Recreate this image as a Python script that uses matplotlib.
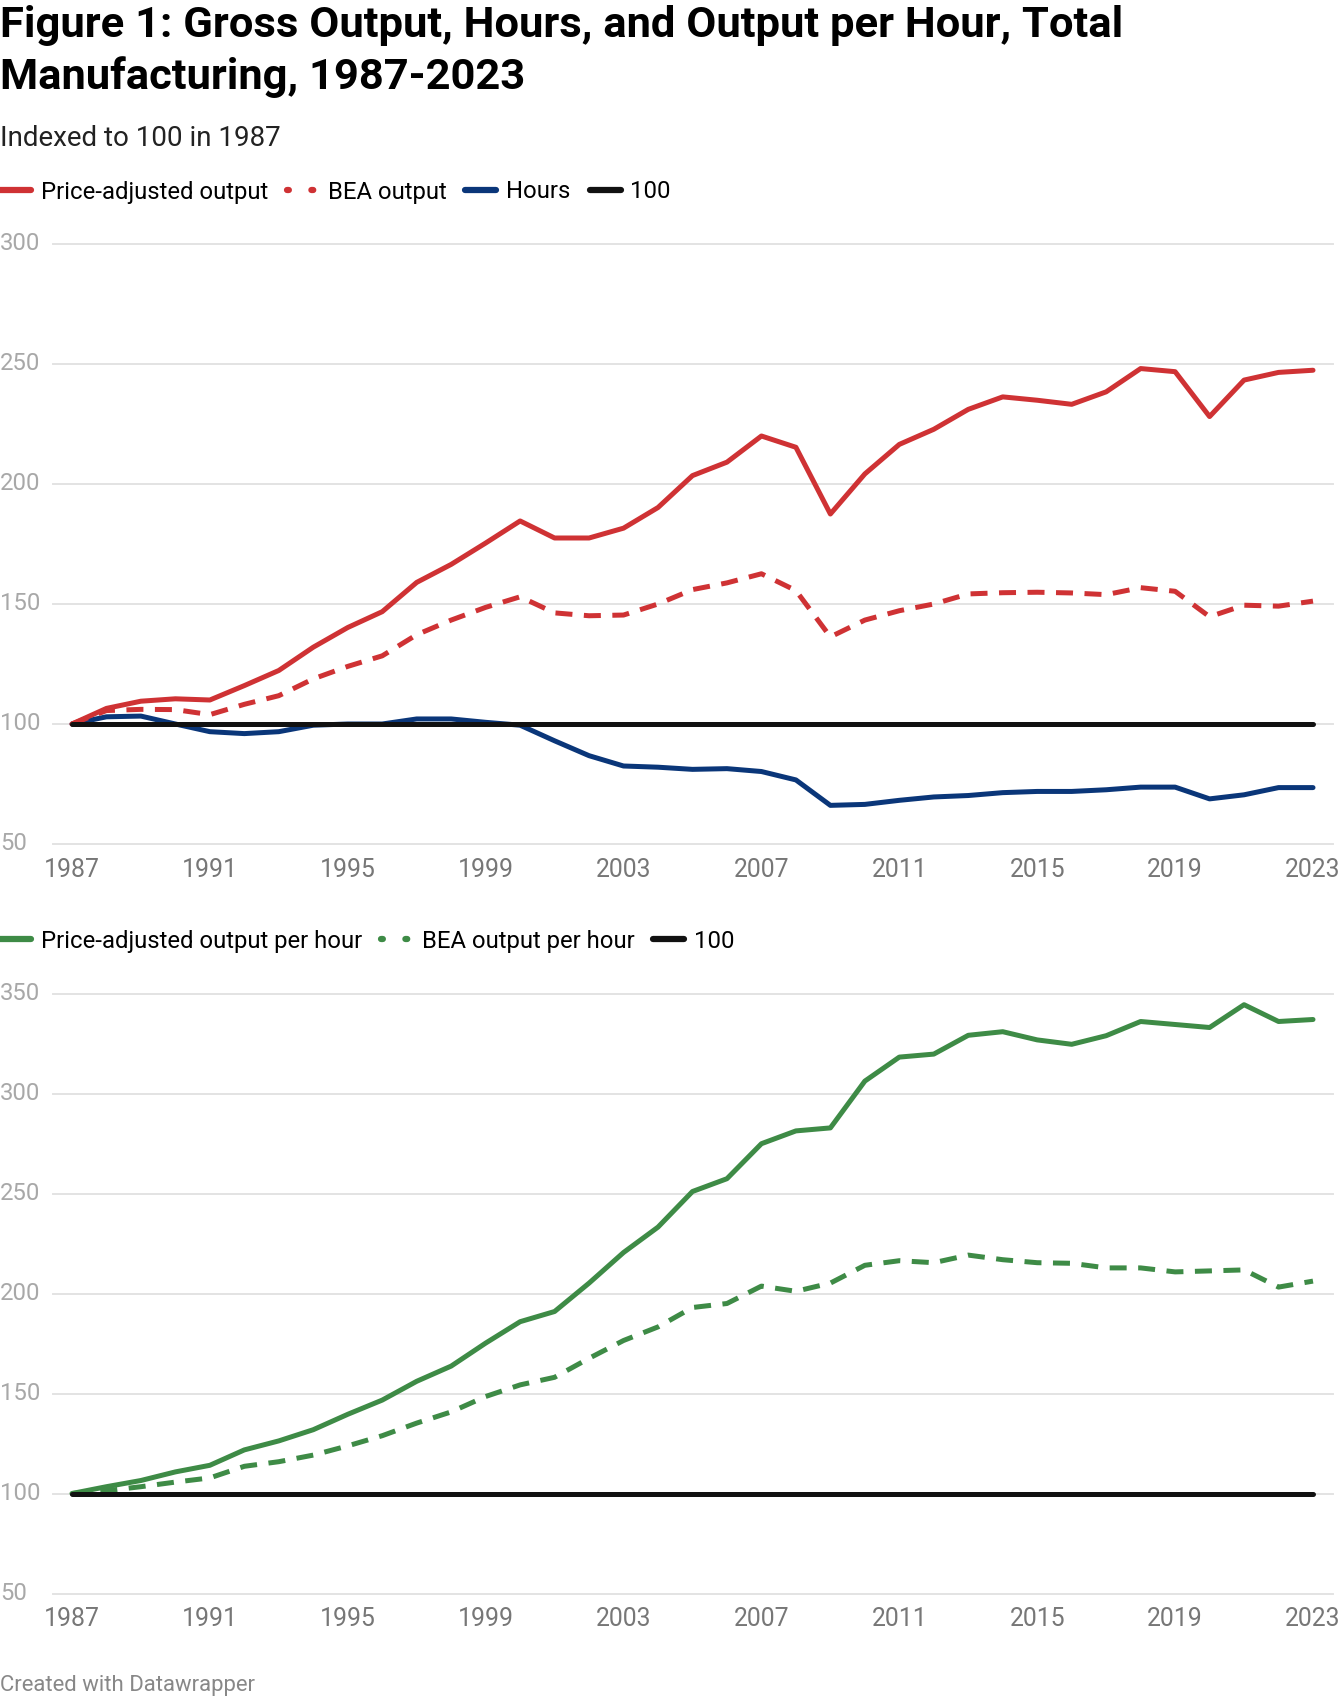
import matplotlib
matplotlib.use('Agg')
import matplotlib.pyplot as plt
from matplotlib.lines import Line2D

plt.rcParams['font.family'] = ['Roboto', 'DejaVu Sans']

years = list(range(1987, 2024))
price_adj = [100, 106.5, 109.5, 110.5, 110, 116, 122.3, 132, 140.2, 146.8,
             159, 166.5, 175.4, 184.6, 177.5, 177.5, 181.6, 190.2, 203.5, 209.1,
             220, 215.3, 187.5, 204.2, 216.5, 222.8, 231.1, 236.3, 234.9, 233.2,
             238.4, 248.1, 246.8, 228.1, 243.3, 246.5, 247.4]
bea_output = [100, 105.6, 106.1, 106, 103.9, 108.2, 111.8, 118.8, 124, 128.4,
              137.2, 143.3, 148.6, 153, 146.3, 145.1, 145.4, 150, 156, 158.8,
              162.6, 155.6, 136.3, 143.3, 147.2, 150, 154.2, 154.7, 154.9, 154.6,
              153.9, 156.8, 155.3, 144.7, 149.5, 149.1, 151.2]
hours = [100, 103, 103.3, 100, 96.8, 96, 96.8, 99.5, 100, 100,
         102.1, 102.1, 100.7, 99.5, 93, 86.8, 82.5, 82, 81.1, 81.4,
         80.2, 76.7, 66.1, 66.5, 68.2, 69.6, 70.2, 71.4, 71.9, 71.9,
         72.6, 73.7, 73.7, 68.8, 70.5, 73.5, 73.5]
price_adj_hr = [100, 103.4, 106.5, 110.8, 114.1, 121.8, 126.3, 131.9, 139.6, 146.7,
                156.1, 163.7, 175.2, 185.9, 191, 205.2, 220.5, 233.2, 251, 257.4,
                274.9, 281.3, 282.8, 306.2, 318.2, 319.7, 329.1, 330.9, 326.8, 324.6,
                328.9, 336, 334.5, 333, 344.4, 336, 337]
bea_hr = [100, 101.4, 103.4, 105.7, 107.8, 113.6, 115.9, 119.2, 123.8, 128.9,
          135.2, 140.8, 148.5, 154.3, 158.1, 167.6, 176.5, 183.3, 193, 195,
          203.7, 201.1, 205.2, 214.1, 216.4, 215.4, 219.2, 216.9, 215.4, 215.1,
          212.8, 212.8, 210.8, 211.3, 211.8, 203.2, 206.2]
baseline = [100] * len(years)

xticks = list(range(1987, 2024, 4))
yticks_top = [50, 100, 150, 200, 250, 300]
yticks_bot = [50, 100, 150, 200, 250, 300, 350]

RED = '#cf3234'
BLUE = '#0a3679'
GREEN = '#3e8b46'
BLACK = '#111111'
LW = 3.6
DASH = (3.4, 2.3)

W, H = 1340, 1698
fig = plt.figure(figsize=(W / 100, H / 100), dpi=100)


def px_axes(left, top, right, bottom):
    return fig.add_axes([left / W, 1 - bottom / H, (right - left) / W, (bottom - top) / H])


def style(ax, yticks, ylim):
    ax.set_xlim(1986.45, 2023.58)
    ax.set_ylim(*ylim)
    for s in ax.spines.values():
        s.set_visible(False)
    ax.set_xticks([])
    ax.set_yticks([])
    for v in yticks:
        ax.axhline(v, color='#e3e3e3', lw=1.4, zorder=0, clip_on=False)
        ax.text(-53 / 1280, v, str(v), transform=ax.get_yaxis_transform(),
                ha='left', va='center', fontsize=17.2, color='#a8a8a8')
    for x in xticks:
        ax.text(x, -26 / 600, str(x), transform=ax.get_xaxis_transform(),
                ha='center', va='center', fontsize=17.8, color='#777777')


def legend(handles, labels, ypx):
    fig.legend(handles, labels, loc='center left', bbox_to_anchor=(0, 1 - ypx / H),
               ncol=len(labels), frameon=False, fontsize=17.2, handlelength=1.3,
               handletextpad=0.4, columnspacing=0.8, borderpad=0, borderaxespad=0)


def dots(color):
    return Line2D([], [], color=color, lw=4.5, ls=(0, (0.3, 3.6)), dash_capstyle='round')


# top panel
ax1 = px_axes(53, 244, 1333, 844)
style(ax1, yticks_top, (50, 300))
kw = dict(lw=LW, solid_capstyle='round', solid_joinstyle='round', clip_on=False)
ax1.plot(years, hours, color=BLUE, zorder=3, **kw)
ax1.plot(years, bea_output, color=RED, ls=(0, DASH), zorder=3, **kw)
ax1.plot(years, price_adj, color=RED, zorder=4, **kw)
ax1.plot(years, baseline, color=BLACK, zorder=5, **kw)

h = [Line2D([], [], color=RED, lw=4.5, solid_capstyle='round'),
     dots(RED),
     Line2D([], [], color=BLUE, lw=4.5, solid_capstyle='round'),
     Line2D([], [], color=BLACK, lw=4.5, solid_capstyle='round')]
legend(h, ['Price-adjusted output', 'BEA output', 'Hours', '100'], 192)

# bottom panel
ax2 = px_axes(53, 993.5, 1333, 1593.5)
style(ax2, yticks_bot, (50, 350))
ax2.plot(years, bea_hr, color=GREEN, ls=(0, DASH), zorder=3, **kw)
ax2.plot(years, price_adj_hr, color=GREEN, zorder=4, **kw)
ax2.plot(years, baseline, color=BLACK, zorder=5, **kw)

h = [Line2D([], [], color=GREEN, lw=4.5, solid_capstyle='round'),
     dots(GREEN),
     Line2D([], [], color=BLACK, lw=4.5, solid_capstyle='round')]
legend(h, ['Price-adjusted output per hour', 'BEA output per hour', '100'], 941)

# titles
fig.text(0, 1 - 25 / H, 'Figure 1: Gross Output, Hours, and Output per Hour, Total',
         fontsize=31.3, fontweight='bold', ha='left', va='center', color='#000000')
fig.text(0, 1 - 77 / H, 'Manufacturing, 1987-2023',
         fontsize=31.3, fontweight='bold', ha='left', va='center', color='#000000')
fig.text(0, 1 - 139 / H, 'Indexed to 100 in 1987', fontsize=20,
         ha='left', va='center', color='#222222')
fig.text(0, 1 - 1686 / H, 'Created with Datawrapper', fontsize=15.9,
         ha='left', va='center', color='#888888')

fig.savefig('out.png', dpi=100)
